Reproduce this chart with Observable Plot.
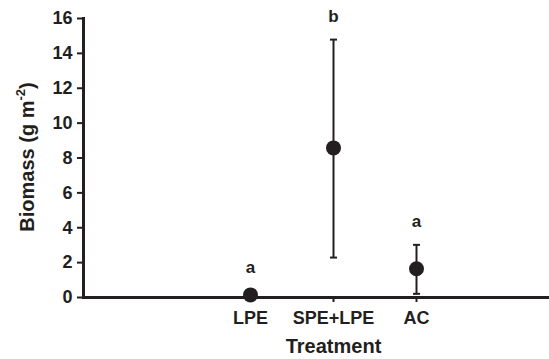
<!DOCTYPE html>
<html>
<head>
<meta charset="utf-8">
<script src="https://cdn.jsdelivr.net/npm/d3@7"></script>
<script src="https://cdn.jsdelivr.net/npm/@observablehq/plot@0.6"></script>
<style>
  html, body { margin: 0; padding: 0; background: #fff; }
  #chart svg { font-family: "Liberation Sans", Arial, sans-serif; font-weight: bold; }
</style>
</head>
<body>
<div id="chart"></div>
<script>
const treatments = ["LPE", "SPE+LPE", "AC"];
const means = [0.15, 8.58, 1.65];
const lower = [0, 2.29, 0.21];
const upper = [0.4, 14.79, 3.02];
const letters = ["a", "b", "a"];
const yTicks = [0, 2, 4, 6, 8, 10, 12, 14, 16];
const xLabel = "Treatment";
const yLabelMain = "Biomass (g m";
const yLabelSup = "-2";
const yLabelEnd = ")";

const ink = "#231f20";
const data = treatments.map((t, i) => ({t, m: means[i], lo: lower[i], hi: upper[i], letter: letters[i]}));

// horizontal cap symbol for the error bars
const capSymbol = {draw(context) { context.moveTo(-3.5, 0); context.lineTo(3.5, 0); }};

const chart = Plot.plot({
  width: 549,
  height: 359,
  marginLeft: 83,
  marginRight: 0,
  marginTop: 18,
  marginBottom: 62,
  style: {fontFamily: "Liberation Sans, Arial, sans-serif", fontWeight: "bold", color: ink, background: "#fff"},
  x: {type: "point", domain: treatments, range: [208, 457]},
  y: {domain: [0, 16]},
  marks: [
    Plot.axisY({ticks: yTicks, tickSize: 6, tickPadding: 5, fontSize: 18, label: null, stroke: ink, strokeWidth: 2, fill: ink}),
    Plot.axisX({tickSize: 5, tickPadding: 9, fontSize: 18, label: null, stroke: ink, strokeWidth: 2, fill: ink}),
    Plot.frame({anchor: "left", stroke: ink, strokeWidth: 3}),
    Plot.ruleY([0], {stroke: ink, strokeWidth: 3}),
    Plot.ruleX(data, {x: "t", y1: "lo", y2: "hi", stroke: ink, strokeWidth: 2}),
    Plot.dot(data, {x: "t", y: "hi", symbol: capSymbol, stroke: ink, strokeWidth: 2, fill: "none"}),
    Plot.dot(data, {x: "t", y: "lo", symbol: capSymbol, stroke: ink, strokeWidth: 2, fill: "none"}),
    Plot.dot(data, {x: "t", y: "m", r: 7.5, fill: ink, stroke: null}),
    Plot.text(data, {x: "t", y: "hi", text: "letter", dy: -23, fontSize: 17, fill: ink}),
    Plot.text([xLabel], {x: () => "SPE+LPE", frameAnchor: "bottom", dy: 55, text: d => d, fontSize: 20, fill: ink})
  ]
});

// y-axis title with a real superscript
const svg = d3.select(chart);
const t = svg.append("text")
  .attr("transform", "translate(27,157) rotate(-90)")
  .attr("text-anchor", "middle")
  .attr("dominant-baseline", "central")
  .attr("fill", ink)
  .attr("font-size", 20)
  .attr("font-weight", "bold");
t.append("tspan").text(yLabelMain);
t.append("tspan").attr("font-size", 13).attr("dy", "-0.55em").text(yLabelSup);
t.append("tspan").attr("dy", "0.36em").text(yLabelEnd);

document.getElementById("chart").appendChild(chart);
</script>
</body>
</html>
